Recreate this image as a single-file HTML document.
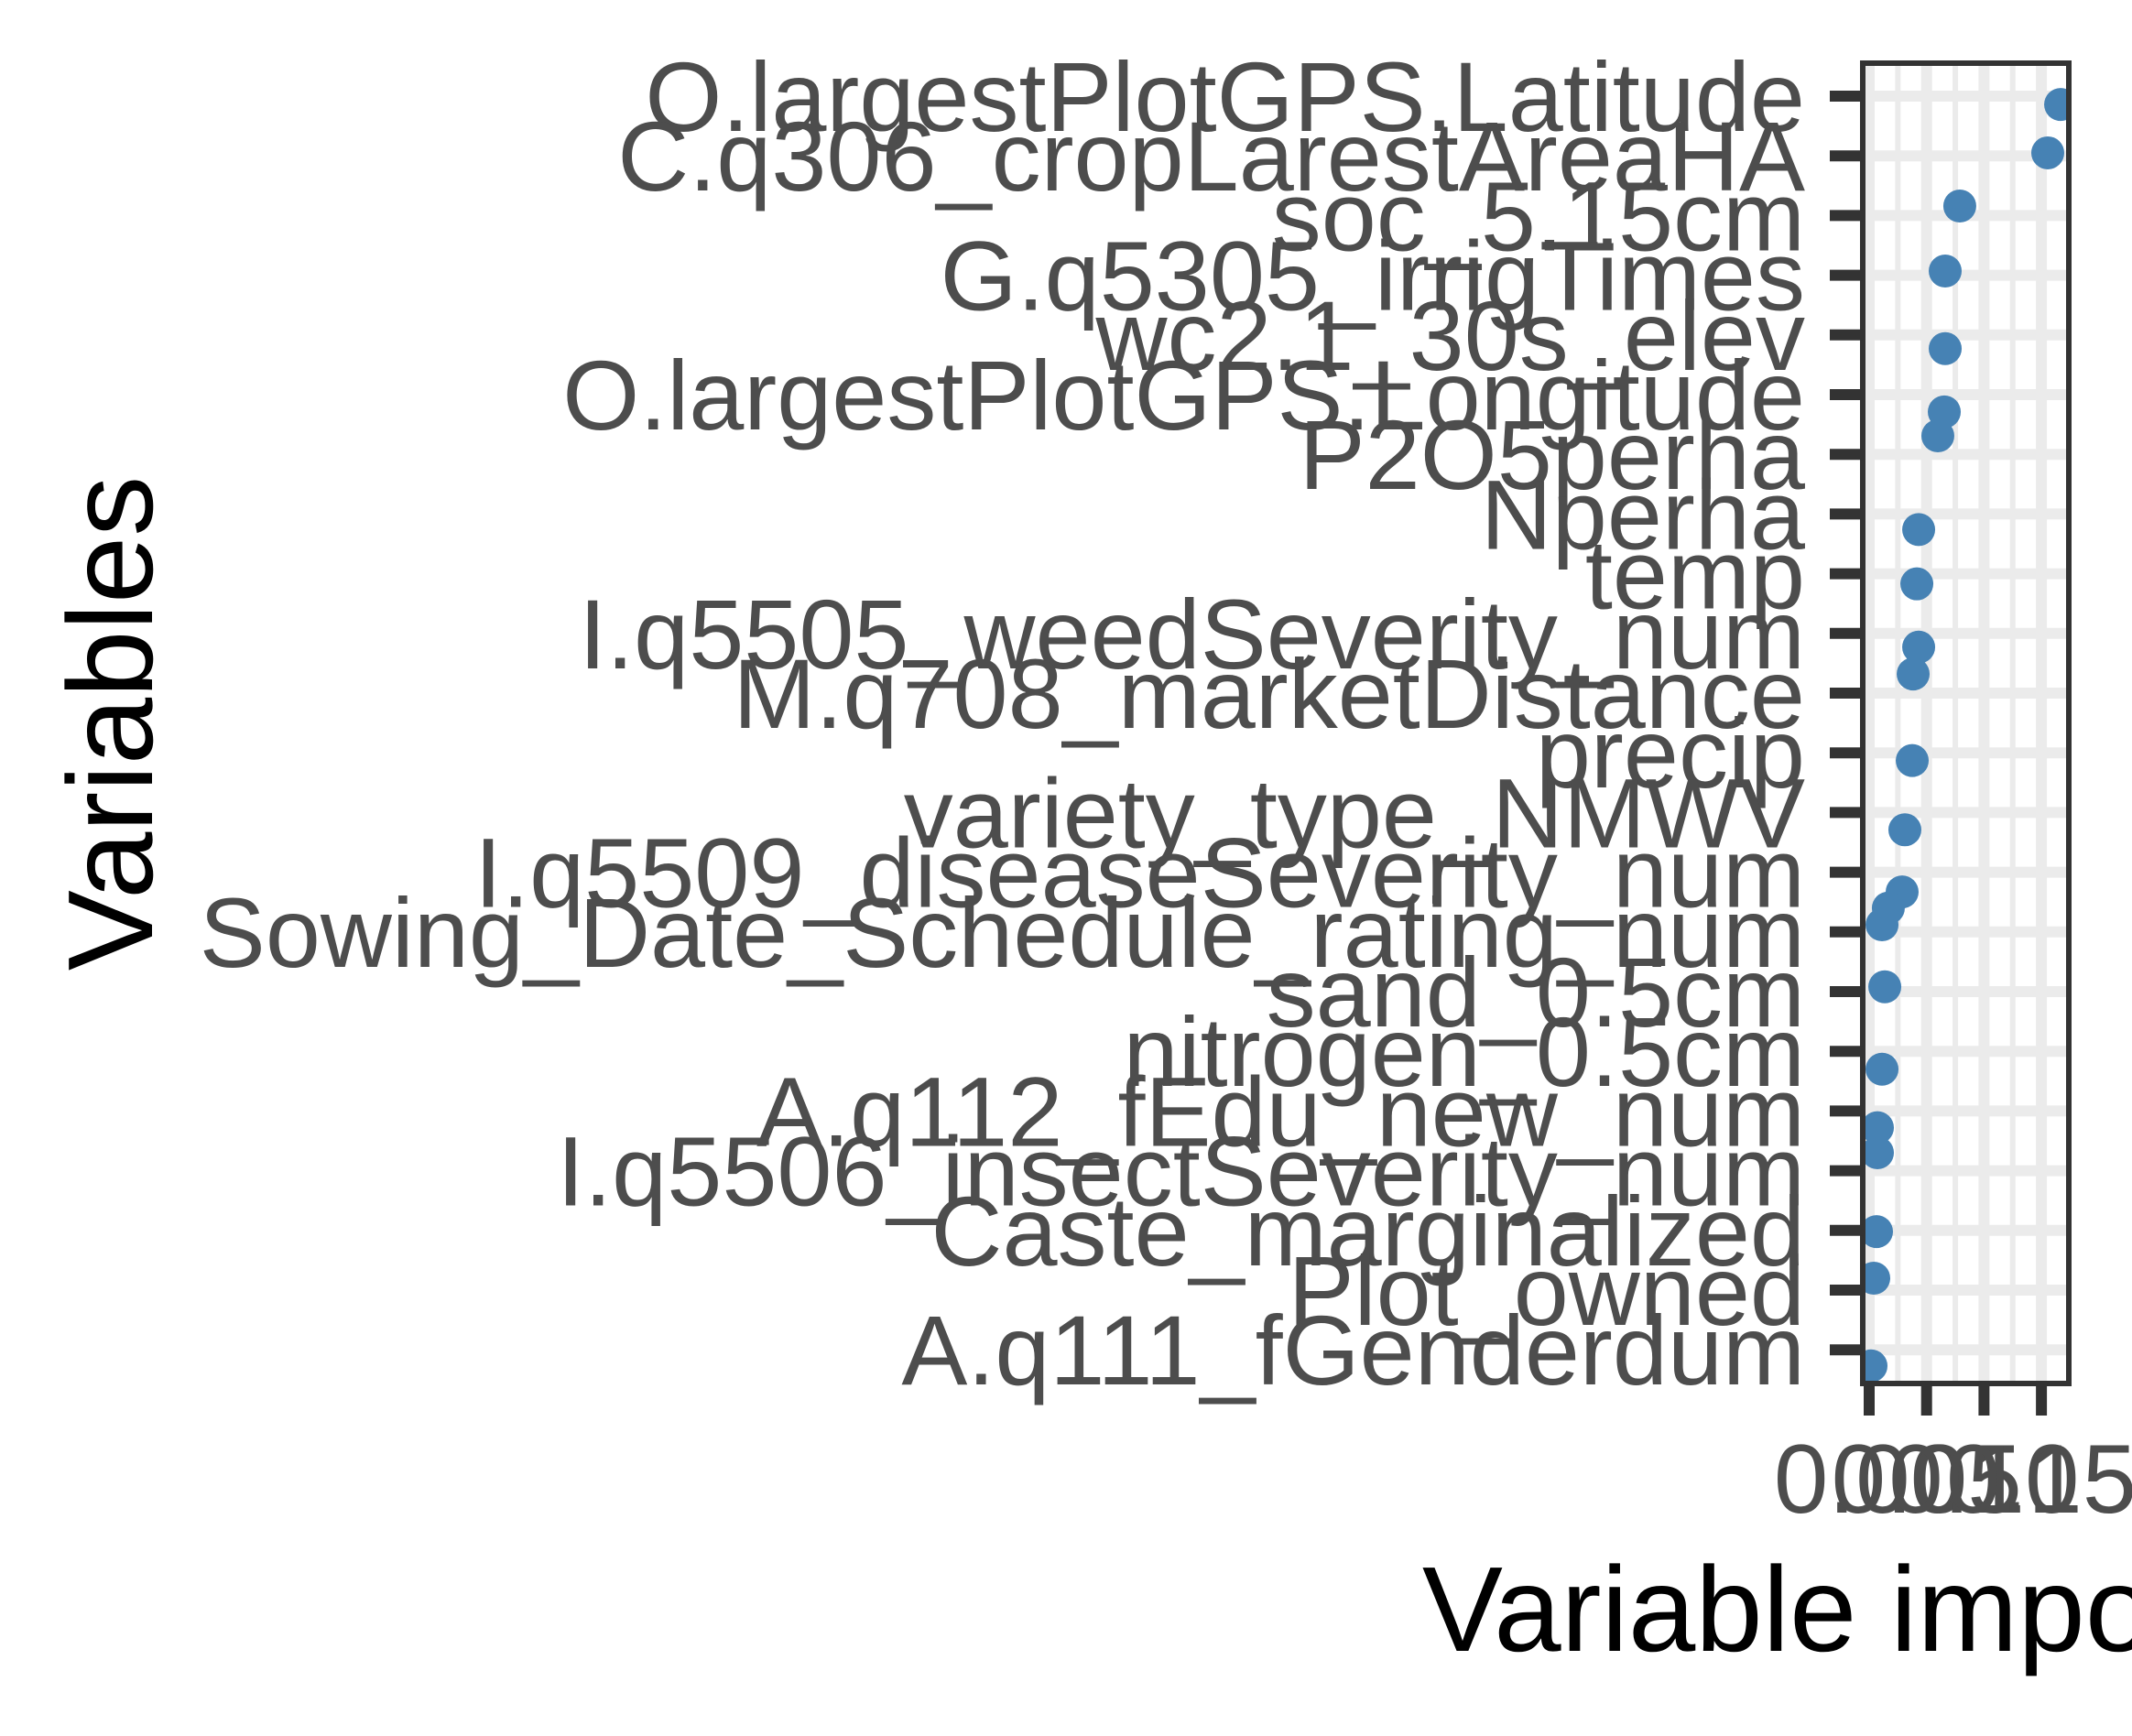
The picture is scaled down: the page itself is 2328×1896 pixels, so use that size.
<!DOCTYPE html>
<html><head><meta charset="utf-8"><style>
html,body{margin:0;padding:0;background:#fff;}
svg{display:block;font-family:"Liberation Sans",Arial,sans-serif;}
</style></head><body>
<svg id="chart" width="2328" height="1896" viewBox="0 0 2328 1896" xmlns="http://www.w3.org/2000/svg">
<defs><clipPath id="panelClip"><rect x="2037" y="72" width="219" height="1436"/></clipPath></defs>
<rect x="0" y="0" width="2328" height="1896" fill="#fff"/>
<g id="grid"></g>
<g id="points" clip-path="url(#panelClip)"></g>
<rect x="2034" y="69" width="225" height="1442" fill="none" stroke="#333" stroke-width="6"/>
<g id="yaxis"></g>
<g id="xaxis"></g>
<text x="166" y="790" transform="rotate(-90 166 790)" text-anchor="middle" font-size="132" fill="#000">Variables</text>
<text x="2135" y="1803" text-anchor="middle" font-size="132" fill="#000">Variable importance</text>
</svg>
<script>
const categories = ["O.largestPlotGPS.Latitude","C.q306_cropLarestAreaHA","soc_5.15cm","G.q5305_irrigTimes","wc2.1_30s_elev","O.largestPlotGPS.Longitude","P2O5perha","Nperha","temp","I.q5505_weedSeverity_num","M.q708_marketDistance","precip","variety_type_NMWV","I.q5509_diseaseSeverity_num","Sowing_Date_Schedule_rating_num","sand_0.5cm","nitrogen_0.5cm","A.q112_fEdu_new_num","I.q5506_insectSeverity_num","Caste_marginalized","Plot_owned","A.q111_fGenderdum"];
const xTicks = [0, 0.05, 0.10, 0.15];
const xTickLabels = ["0.00","0.05","0.10","0.15"];
const importance = [0.1667,0.1555,0.0789,0.0662,0.0662,0.0654,0.0598,0.0431,0.0415,0.0431,0.0383,0.0375,0.0311,0.0287,0.0167,0.0112,0.0136,0.0112,0.0072,0.0072,0.0064,0.0040,0.0016];
const pointRow = [0.14,0.95,1.84,2.93,4.23,5.29,5.69,7.26,8.17,9.23,9.68,11.13,12.29,13.33,13.6,13.88,14.92,16.3,17.28,17.7,19.02,19.8,21.27];

const NS = "http://www.w3.org/2000/svg";
const X0 = 2041, XS = 62.7/0.05;
const Y0 = 105, YS = 65.2;
function xScale(v){ return X0 + v*XS; }
function yScale(k){ return Y0 + k*YS; }
function mk(tag, attrs, parent){ const e=document.createElementNS(NS,tag); for(const k in attrs) e.setAttribute(k,attrs[k]); parent.appendChild(e); return e; }

const grid = document.getElementById('grid');
for(let i=0;i<xTicks.length-1;i++){
  const v=(xTicks[i]+xTicks[i+1])/2;
  const l=mk('line',{x1:xScale(v),x2:xScale(v),y1:72,y2:1508,stroke:'#ebebeb','stroke-width':6},grid);
  
  
}
xTicks.forEach(v=>{
  const l=mk('line',{x1:xScale(v),x2:xScale(v),y1:72,y2:1508,stroke:'#ebebeb','stroke-width':12},grid);
  
  
});
categories.forEach((c,i)=>{
  const l=mk('line',{x1:2037,x2:2256,y1:yScale(i),y2:yScale(i),stroke:'#ebebeb','stroke-width':12},grid);
  
  
});

const pts = document.getElementById('points');
importance.forEach((v,i)=>{
  const c=mk('circle',{cx:xScale(v),cy:yScale(pointRow[i]),r:18,fill:'#4682b4'},pts);
  
  
});

const ya = document.getElementById('yaxis');
categories.forEach((c,i)=>{
  const y=yScale(i);
  const t=mk('line',{x1:1998,x2:2034,y1:y,y2:y,stroke:'#333','stroke-width':12},ya);
  
  
  const tx=mk('text',{x:1971,y:y+38,'text-anchor':'end','font-size':108,fill:'#4d4d4d'},ya);
  tx.textContent=c;
  
  
});

const xa = document.getElementById('xaxis');
xTicks.forEach((v,i)=>{
  const x=xScale(v);
  const t=mk('line',{x1:x,x2:x,y1:1511,y2:1546,stroke:'#333','stroke-width':12},xa);
  
  
  const tx=mk('text',{x:x,y:1652,'text-anchor':'middle','font-size':107,fill:'#4d4d4d'},xa);
  tx.textContent=xTickLabels[i];
  
  
});
</script>
</body></html>
